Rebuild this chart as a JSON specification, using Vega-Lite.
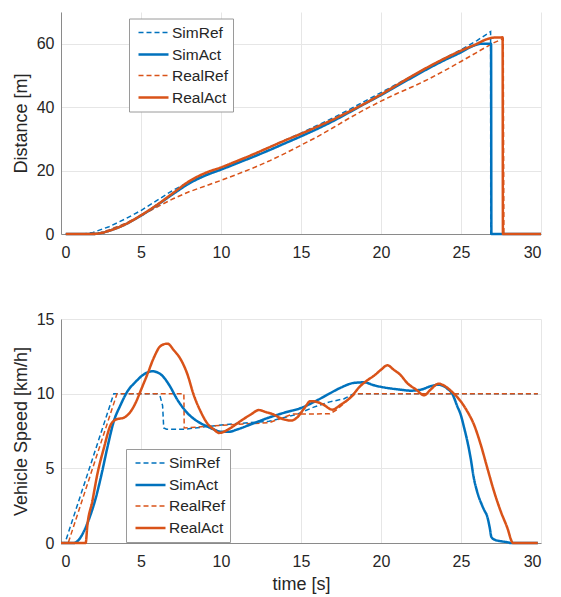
{
  "$schema": "https://vega.github.io/schema/vega-lite/v6.json",
  "padding": {"left": 12, "top": 12, "right": 5, "bottom": 2},
  "background": "white",
  "spacing": 51,
  "config": {
    "font": "Liberation Sans",
    "view": {"stroke": null},
    "axis": {
      "domainColor": "#8a8a8a",
      "gridColor": "#e6e6e6",
      "ticks": false,
      "labelFontSize": 16,
      "labelColor": "#262626",
      "labelFont": "Liberation Sans",
      "titleFont": "Liberation Sans",
      "titleFontSize": 18,
      "titleFontWeight": "normal",
      "titleColor": "#262626"
    },
    "axisX": {"labelPadding": 10, "titlePadding": 6},
    "axisY": {"labelPadding": 7, "titlePadding": 6},
    "legend": {
      "orient": "none",
      "title": null,
      "symbolType": "M-1.875,0H1.875",
      "symbolSize": 256,
      "symbolOffset": 10,
      "labelFontSize": 15.5,
      "labelFont": "Liberation Sans",
      "labelColor": "#262626",
      "strokeColor": "#9a9a9a",
      "fillColor": "white",
      "padding": 5,
      "rowPadding": 3.5,
      "labelOffset": 9
    }
  },
  "resolve": {"legend": {"color": "independent", "strokeDash": "independent", "strokeWidth": "independent"}},
  "datasets": {
    "dist": [
      {"series": "SimRef", "t": 0.3, "d": 0}, {"series": "SimRef", "t": 1.4, "d": 0}, {"series": "SimRef", "t": 2, "d": 0.5}, {"series": "SimRef", "t": 3, "d": 2.3}, {"series": "SimRef", "t": 4, "d": 4.7}, {"series": "SimRef", "t": 5, "d": 7.4}, {"series": "SimRef", "t": 6, "d": 10.6}, {"series": "SimRef", "t": 7, "d": 13.8}, {"series": "SimRef", "t": 8, "d": 16.4}, {"series": "SimRef", "t": 9, "d": 18.5}, {"series": "SimRef", "t": 10, "d": 20.6}, {"series": "SimRef", "t": 11, "d": 22.8}, {"series": "SimRef", "t": 12, "d": 25}, {"series": "SimRef", "t": 13, "d": 27.3}, {"series": "SimRef", "t": 14, "d": 29.6}, {"series": "SimRef", "t": 15, "d": 31.8}, {"series": "SimRef", "t": 16, "d": 34.2}, {"series": "SimRef", "t": 17, "d": 36.6}, {"series": "SimRef", "t": 18, "d": 39.2}, {"series": "SimRef", "t": 19, "d": 41.9}, {"series": "SimRef", "t": 20, "d": 44.6}, {"series": "SimRef", "t": 21, "d": 47.3}, {"series": "SimRef", "t": 22, "d": 50}, {"series": "SimRef", "t": 23, "d": 52.8}, {"series": "SimRef", "t": 24, "d": 55.5}, {"series": "SimRef", "t": 25, "d": 58.1}, {"series": "SimRef", "t": 26, "d": 61}, {"series": "SimRef", "t": 26.85, "d": 63.8}, {"series": "SimRef", "t": 26.86, "d": 0}, {"series": "SimRef", "t": 30, "d": 0},
      {"series": "SimAct", "t": 0.3, "d": 0}, {"series": "SimAct", "t": 2.0, "d": 0}, {"series": "SimAct", "t": 2.5, "d": 0.3}, {"series": "SimAct", "t": 3, "d": 1.0}, {"series": "SimAct", "t": 4, "d": 3.0}, {"series": "SimAct", "t": 5, "d": 5.8}, {"series": "SimAct", "t": 6, "d": 9.1}, {"series": "SimAct", "t": 7, "d": 12.6}, {"series": "SimAct", "t": 8, "d": 15.9}, {"series": "SimAct", "t": 9, "d": 18.4}, {"series": "SimAct", "t": 10, "d": 20.3}, {"series": "SimAct", "t": 11, "d": 22.3}, {"series": "SimAct", "t": 12, "d": 24.3}, {"series": "SimAct", "t": 13, "d": 26.4}, {"series": "SimAct", "t": 14, "d": 28.6}, {"series": "SimAct", "t": 15, "d": 30.8}, {"series": "SimAct", "t": 16, "d": 33.1}, {"series": "SimAct", "t": 17, "d": 35.6}, {"series": "SimAct", "t": 18, "d": 38.3}, {"series": "SimAct", "t": 19, "d": 41.1}, {"series": "SimAct", "t": 20, "d": 43.8}, {"series": "SimAct", "t": 21, "d": 46.7}, {"series": "SimAct", "t": 22, "d": 49.5}, {"series": "SimAct", "t": 23, "d": 52.3}, {"series": "SimAct", "t": 24, "d": 54.9}, {"series": "SimAct", "t": 25, "d": 57.3}, {"series": "SimAct", "t": 25.7, "d": 59.2}, {"series": "SimAct", "t": 26.3, "d": 60}, {"series": "SimAct", "t": 26.88, "d": 60}, {"series": "SimAct", "t": 26.9, "d": 0}, {"series": "SimAct", "t": 30, "d": 0},
      {"series": "RealRef", "t": 0.3, "d": 0}, {"series": "RealRef", "t": 1.6, "d": 0}, {"series": "RealRef", "t": 2.5, "d": 0.5}, {"series": "RealRef", "t": 3, "d": 1.3}, {"series": "RealRef", "t": 4, "d": 3.3}, {"series": "RealRef", "t": 5, "d": 5.8}, {"series": "RealRef", "t": 6, "d": 8.5}, {"series": "RealRef", "t": 7, "d": 11.1}, {"series": "RealRef", "t": 8, "d": 13.3}, {"series": "RealRef", "t": 9, "d": 15.1}, {"series": "RealRef", "t": 10, "d": 16.9}, {"series": "RealRef", "t": 11, "d": 18.8}, {"series": "RealRef", "t": 12, "d": 20.8}, {"series": "RealRef", "t": 13, "d": 23}, {"series": "RealRef", "t": 14, "d": 25.4}, {"series": "RealRef", "t": 15, "d": 28}, {"series": "RealRef", "t": 16, "d": 30.6}, {"series": "RealRef", "t": 17, "d": 33.5}, {"series": "RealRef", "t": 18, "d": 36.5}, {"series": "RealRef", "t": 19, "d": 39.3}, {"series": "RealRef", "t": 20, "d": 41.9}, {"series": "RealRef", "t": 21, "d": 44.3}, {"series": "RealRef", "t": 22, "d": 46.5}, {"series": "RealRef", "t": 23, "d": 48.9}, {"series": "RealRef", "t": 24, "d": 51.6}, {"series": "RealRef", "t": 25, "d": 54.4}, {"series": "RealRef", "t": 26, "d": 57.3}, {"series": "RealRef", "t": 27, "d": 60.2}, {"series": "RealRef", "t": 27.64, "d": 61.6}, {"series": "RealRef", "t": 27.68, "d": 0}, {"series": "RealRef", "t": 30, "d": 0},
      {"series": "RealAct", "t": 0.3, "d": 0}, {"series": "RealAct", "t": 2.0, "d": 0}, {"series": "RealAct", "t": 2.5, "d": 0.3}, {"series": "RealAct", "t": 3, "d": 1.0}, {"series": "RealAct", "t": 4, "d": 3.0}, {"series": "RealAct", "t": 5, "d": 5.9}, {"series": "RealAct", "t": 6, "d": 9.2}, {"series": "RealAct", "t": 7, "d": 12.9}, {"series": "RealAct", "t": 8, "d": 16.6}, {"series": "RealAct", "t": 9, "d": 19.2}, {"series": "RealAct", "t": 10, "d": 21}, {"series": "RealAct", "t": 11, "d": 23}, {"series": "RealAct", "t": 12, "d": 25.1}, {"series": "RealAct", "t": 13, "d": 27.3}, {"series": "RealAct", "t": 14, "d": 29.5}, {"series": "RealAct", "t": 15, "d": 31.6}, {"series": "RealAct", "t": 16, "d": 33.8}, {"series": "RealAct", "t": 17, "d": 36.1}, {"series": "RealAct", "t": 18, "d": 38.6}, {"series": "RealAct", "t": 19, "d": 41.2}, {"series": "RealAct", "t": 20, "d": 44}, {"series": "RealAct", "t": 21, "d": 47}, {"series": "RealAct", "t": 22, "d": 50}, {"series": "RealAct", "t": 23, "d": 52.8}, {"series": "RealAct", "t": 24, "d": 55.4}, {"series": "RealAct", "t": 25, "d": 57.8}, {"series": "RealAct", "t": 26, "d": 60}, {"series": "RealAct", "t": 26.5, "d": 61.2}, {"series": "RealAct", "t": 27, "d": 61.9}, {"series": "RealAct", "t": 27.6, "d": 62}, {"series": "RealAct", "t": 27.62, "d": 0}, {"series": "RealAct", "t": 30, "d": 0}
    ],
    "speed": [
      {"series": "SimRef", "t": 0, "v": 0}, {"series": "SimRef", "t": 0.25, "v": 0}, {"series": "SimRef", "t": 3.3, "v": 10}, {"series": "SimRef", "t": 6.0, "v": 10}, {"series": "SimRef", "t": 6.2, "v": 9.8}, {"series": "SimRef", "t": 6.35, "v": 9.2}, {"series": "SimRef", "t": 6.42, "v": 7.7}, {"series": "SimRef", "t": 6.6, "v": 7.62}, {"series": "SimRef", "t": 7.7, "v": 7.62}, {"series": "SimRef", "t": 9.6, "v": 7.85}, {"series": "SimRef", "t": 11, "v": 8.0}, {"series": "SimRef", "t": 13, "v": 8.15}, {"series": "SimRef", "t": 14.7, "v": 8.6}, {"series": "SimRef", "t": 15.8, "v": 9.1}, {"series": "SimRef", "t": 16.8, "v": 9.45}, {"series": "SimRef", "t": 17.7, "v": 9.66}, {"series": "SimRef", "t": 18.3, "v": 10}, {"series": "SimRef", "t": 29.8, "v": 10},
      {"series": "SimAct", "t": 0, "v": 0}, {"series": "SimAct", "t": 0.8, "v": 0}, {"series": "SimAct", "t": 1.1, "v": 0.2}, {"series": "SimAct", "t": 1.44, "v": 0.8}, {"series": "SimAct", "t": 1.85, "v": 1.9}, {"series": "SimAct", "t": 2.17, "v": 3.0}, {"series": "SimAct", "t": 2.48, "v": 4.35}, {"series": "SimAct", "t": 2.9, "v": 6.4}, {"series": "SimAct", "t": 3.3, "v": 8.15}, {"series": "SimAct", "t": 3.73, "v": 9.26}, {"series": "SimAct", "t": 4.15, "v": 10.15}, {"series": "SimAct", "t": 4.67, "v": 10.8}, {"series": "SimAct", "t": 5.19, "v": 11.3}, {"series": "SimAct", "t": 5.7, "v": 11.5}, {"series": "SimAct", "t": 6.23, "v": 11.3}, {"series": "SimAct", "t": 6.75, "v": 10.6}, {"series": "SimAct", "t": 7.27, "v": 9.6}, {"series": "SimAct", "t": 7.9, "v": 8.7}, {"series": "SimAct", "t": 8.52, "v": 8.15}, {"series": "SimAct", "t": 9.15, "v": 7.8}, {"series": "SimAct", "t": 9.56, "v": 7.6}, {"series": "SimAct", "t": 10.0, "v": 7.45}, {"series": "SimAct", "t": 10.5, "v": 7.45}, {"series": "SimAct", "t": 11, "v": 7.6}, {"series": "SimAct", "t": 12, "v": 8.0}, {"series": "SimAct", "t": 13, "v": 8.4}, {"series": "SimAct", "t": 14.1, "v": 8.77}, {"series": "SimAct", "t": 15, "v": 9.04}, {"series": "SimAct", "t": 15.8, "v": 9.44}, {"series": "SimAct", "t": 16.65, "v": 9.93}, {"series": "SimAct", "t": 17.48, "v": 10.4}, {"series": "SimAct", "t": 18.3, "v": 10.72}, {"series": "SimAct", "t": 18.94, "v": 10.76}, {"series": "SimAct", "t": 19.56, "v": 10.56}, {"series": "SimAct", "t": 20.4, "v": 10.38}, {"series": "SimAct", "t": 21.2, "v": 10.27}, {"series": "SimAct", "t": 21.85, "v": 10.2}, {"series": "SimAct", "t": 22.5, "v": 10.27}, {"series": "SimAct", "t": 23.1, "v": 10.5}, {"series": "SimAct", "t": 23.6, "v": 10.6}, {"series": "SimAct", "t": 24.15, "v": 10.33}, {"series": "SimAct", "t": 24.46, "v": 9.98}, {"series": "SimAct", "t": 24.77, "v": 9.15}, {"series": "SimAct", "t": 24.98, "v": 8.6}, {"series": "SimAct", "t": 25.2, "v": 7.7}, {"series": "SimAct", "t": 25.4, "v": 6.8}, {"series": "SimAct", "t": 25.6, "v": 5.7}, {"series": "SimAct", "t": 25.8, "v": 4.36}, {"series": "SimAct", "t": 26.0, "v": 3.47}, {"series": "SimAct", "t": 26.3, "v": 2.57}, {"series": "SimAct", "t": 26.5, "v": 2.1}, {"series": "SimAct", "t": 26.6, "v": 1.9}, {"series": "SimAct", "t": 26.8, "v": 1.0}, {"series": "SimAct", "t": 26.9, "v": 0.4}, {"series": "SimAct", "t": 27.1, "v": 0.22}, {"series": "SimAct", "t": 27.48, "v": 0.12}, {"series": "SimAct", "t": 28.0, "v": 0.03}, {"series": "SimAct", "t": 28.1, "v": 0}, {"series": "SimAct", "t": 29.8, "v": 0},
      {"series": "RealRef", "t": 0, "v": 0}, {"series": "RealRef", "t": 0.45, "v": 0}, {"series": "RealRef", "t": 3.5, "v": 10}, {"series": "RealRef", "t": 7.68, "v": 10}, {"series": "RealRef", "t": 7.7, "v": 7.7}, {"series": "RealRef", "t": 9.6, "v": 7.85}, {"series": "RealRef", "t": 11, "v": 7.95}, {"series": "RealRef", "t": 13, "v": 8.05}, {"series": "RealRef", "t": 14.5, "v": 8.64}, {"series": "RealRef", "t": 16.8, "v": 8.65}, {"series": "RealRef", "t": 17.2, "v": 8.9}, {"series": "RealRef", "t": 18.4, "v": 10}, {"series": "RealRef", "t": 29.8, "v": 10},
      {"series": "RealAct", "t": 0, "v": 0}, {"series": "RealAct", "t": 1.54, "v": 0}, {"series": "RealAct", "t": 1.65, "v": 1.2}, {"series": "RealAct", "t": 1.96, "v": 2.8}, {"series": "RealAct", "t": 2.27, "v": 4.6}, {"series": "RealAct", "t": 2.69, "v": 6.4}, {"series": "RealAct", "t": 3.1, "v": 7.9}, {"series": "RealAct", "t": 3.42, "v": 8.26}, {"series": "RealAct", "t": 3.94, "v": 8.4}, {"series": "RealAct", "t": 4.35, "v": 8.8}, {"series": "RealAct", "t": 4.67, "v": 9.4}, {"series": "RealAct", "t": 4.98, "v": 10.2}, {"series": "RealAct", "t": 5.4, "v": 11.3}, {"series": "RealAct", "t": 5.8, "v": 12.4}, {"series": "RealAct", "t": 6.23, "v": 13.2}, {"series": "RealAct", "t": 6.65, "v": 13.35}, {"series": "RealAct", "t": 7.06, "v": 12.9}, {"series": "RealAct", "t": 7.48, "v": 12.3}, {"series": "RealAct", "t": 7.9, "v": 11.3}, {"series": "RealAct", "t": 8.3, "v": 9.9}, {"series": "RealAct", "t": 8.73, "v": 8.8}, {"series": "RealAct", "t": 9.15, "v": 8.0}, {"series": "RealAct", "t": 9.56, "v": 7.6}, {"series": "RealAct", "t": 9.875, "v": 7.37}, {"series": "RealAct", "t": 10.6, "v": 7.7}, {"series": "RealAct", "t": 11.2, "v": 8.15}, {"series": "RealAct", "t": 11.85, "v": 8.6}, {"series": "RealAct", "t": 12.375, "v": 8.9}, {"series": "RealAct", "t": 12.8, "v": 8.77}, {"series": "RealAct", "t": 13.3, "v": 8.6}, {"series": "RealAct", "t": 13.7, "v": 8.37}, {"series": "RealAct", "t": 14.4, "v": 8.2}, {"series": "RealAct", "t": 14.75, "v": 8.4}, {"series": "RealAct", "t": 15.19, "v": 9.0}, {"series": "RealAct", "t": 15.6, "v": 9.5}, {"series": "RealAct", "t": 16.02, "v": 9.44}, {"series": "RealAct", "t": 16.4, "v": 9.26}, {"series": "RealAct", "t": 16.96, "v": 8.93}, {"series": "RealAct", "t": 17.48, "v": 9.26}, {"series": "RealAct", "t": 18.1, "v": 9.75}, {"series": "RealAct", "t": 18.7, "v": 10.5}, {"series": "RealAct", "t": 19.15, "v": 10.9}, {"series": "RealAct", "t": 19.56, "v": 11.2}, {"series": "RealAct", "t": 20.0, "v": 11.6}, {"series": "RealAct", "t": 20.4, "v": 11.9}, {"series": "RealAct", "t": 20.8, "v": 11.6}, {"series": "RealAct", "t": 21.2, "v": 11.27}, {"series": "RealAct", "t": 21.65, "v": 10.7}, {"series": "RealAct", "t": 22.2, "v": 10.27}, {"series": "RealAct", "t": 22.69, "v": 9.89}, {"series": "RealAct", "t": 23.1, "v": 10.27}, {"series": "RealAct", "t": 23.6, "v": 10.67}, {"series": "RealAct", "t": 24.0, "v": 10.5}, {"series": "RealAct", "t": 24.46, "v": 10.1}, {"series": "RealAct", "t": 24.98, "v": 9.49}, {"series": "RealAct", "t": 25.4, "v": 8.8}, {"series": "RealAct", "t": 25.81, "v": 7.93}, {"series": "RealAct", "t": 26.23, "v": 6.6}, {"series": "RealAct", "t": 26.65, "v": 5.0}, {"series": "RealAct", "t": 27.06, "v": 3.47}, {"series": "RealAct", "t": 27.48, "v": 2.13}, {"series": "RealAct", "t": 27.9, "v": 1.0}, {"series": "RealAct", "t": 28.2, "v": 0.05}, {"series": "RealAct", "t": 28.25, "v": 0}, {"series": "RealAct", "t": 29.8, "v": 0}
    ]
  },
  "vconcat": [
    {
      "width": 480,
      "height": 222,
      "data": {"name": "dist"},
      "encoding": {
        "x": {"field": "t", "type": "quantitative", "scale": {"domain": [0, 30], "nice": false, "zero": false}, "axis": {"values": [0, 5, 10, 15, 20, 25, 30], "title": null}},
        "y": {"field": "d", "type": "quantitative", "scale": {"domain": [0, 70], "nice": false}, "axis": {"values": [0, 20, 40, 60], "title": "Distance [m]"}},
        "color": {"field": "series", "type": "nominal", "scale": {"domain": ["SimRef", "SimAct", "RealRef", "RealAct"], "range": ["#0072BD", "#0072BD", "#D95319", "#D95319"]}, "legend": {"legendX": 68, "legendY": 6.5}},
        "strokeDash": {"field": "series", "type": "nominal", "scale": {"domain": ["SimRef", "SimAct", "RealRef", "RealAct"], "range": [[5, 3], [1, 0], [5, 3], [1, 0]]}, "legend": {"legendX": 68, "legendY": 6.5}},
        "strokeWidth": {"field": "series", "type": "nominal", "scale": {"type": "ordinal", "domain": ["SimRef", "SimAct", "RealRef", "RealAct"], "range": [1.5, 2.5, 1.5, 2.5]}, "legend": {"legendX": 68, "legendY": 6.5}}
      },
      "layer": [
        {"transform": [{"filter": {"field": "series", "oneOf": ["SimRef", "RealRef"]}}], "mark": {"type": "line", "strokeCap": "butt", "interpolate": "linear"}},
        {"transform": [{"filter": {"field": "series", "oneOf": ["SimAct", "RealAct"]}}], "mark": {"type": "line", "strokeCap": "butt", "interpolate": "monotone"}}
      ]
    },
    {
      "width": 480,
      "height": 224,
      "data": {"name": "speed"},
      "encoding": {
        "x": {"field": "t", "type": "quantitative", "scale": {"domain": [0, 30], "nice": false, "zero": false}, "axis": {"values": [0, 5, 10, 15, 20, 25, 30], "title": "time [s]"}},
        "y": {"field": "v", "type": "quantitative", "scale": {"domain": [0, 15], "nice": false}, "axis": {"values": [0, 5, 10, 15], "title": "Vehicle Speed [km/h]"}},
        "color": {"field": "series", "type": "nominal", "scale": {"domain": ["SimRef", "SimAct", "RealRef", "RealAct"], "range": ["#0072BD", "#0072BD", "#D95319", "#D95319"]}, "legend": {"legendX": 65, "legendY": 130}},
        "strokeDash": {"field": "series", "type": "nominal", "scale": {"domain": ["SimRef", "SimAct", "RealRef", "RealAct"], "range": [[5, 3], [1, 0], [5, 3], [1, 0]]}, "legend": {"legendX": 65, "legendY": 130}},
        "strokeWidth": {"field": "series", "type": "nominal", "scale": {"type": "ordinal", "domain": ["SimRef", "SimAct", "RealRef", "RealAct"], "range": [1.5, 2.5, 1.5, 2.5]}, "legend": {"legendX": 65, "legendY": 130}}
      },
      "layer": [
        {"transform": [{"filter": {"field": "series", "oneOf": ["SimRef", "RealRef"]}}], "mark": {"type": "line", "strokeCap": "butt", "interpolate": "linear"}},
        {"transform": [{"filter": {"field": "series", "oneOf": ["SimAct", "RealAct"]}}], "mark": {"type": "line", "strokeCap": "butt", "interpolate": "monotone"}}
      ]
    }
  ]
}
